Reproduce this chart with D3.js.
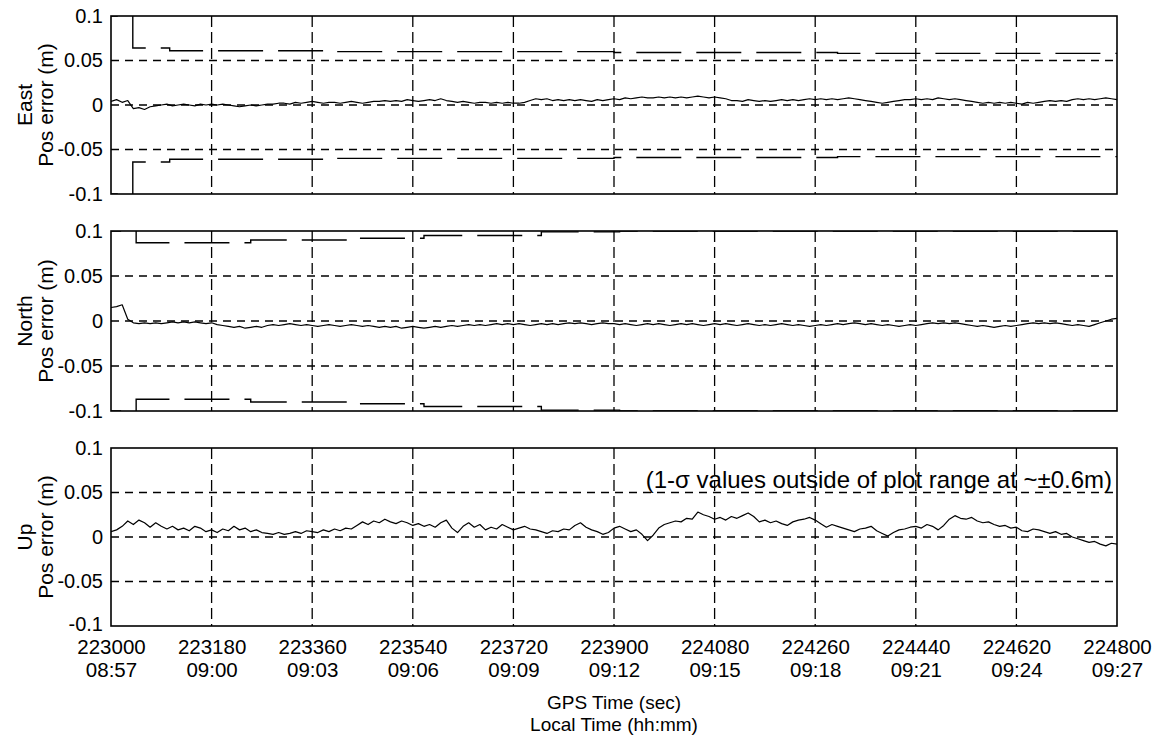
<!DOCTYPE html>
<html>
<head>
<meta charset="utf-8">
<script src="https://cdn.jsdelivr.net/npm/d3@7"></script>
<style>
  html, body { margin: 0; padding: 0; background: #fff; }
  svg { display: block; }
  text { font-family: "Liberation Sans", Arial, Helvetica, sans-serif; fill: #000; }
</style>
</head>
<body>
<svg id="chart" width="1164" height="740"></svg>
<script>
// ---------------- DATA ----------------
const gpsStart = 223000, gpsEnd = 224800, sampleStep = 10;
const xTickGps = [223000, 223180, 223360, 223540, 223720, 223900, 224080, 224260, 224440, 224620, 224800];
const xTickClock = ["08:57", "09:00", "09:03", "09:06", "09:09", "09:12", "09:15", "09:18", "09:21", "09:24", "09:27"];
const yTicks = [-0.1, -0.05, 0, 0.05, 0.1];
const yTickLabels = ["-0.1", "-0.05", "0", "0.05", "0.1"];
const panelNames = ["East", "North", "Up"];
const yAxisTitle = "Pos error (m)";
const xTitle1 = "GPS Time (sec)";
const xTitle2 = "Local Time (hh:mm)";
const upNote = "(1-\u03c3 values outside of plot range at ~\u00b10.6m)";

// position error, one sample every 10 s from 223000 to 224800
const eastError = [
  0.004, 0.006, 0.003, 0.005, -0.004, -0.003, -0.005, -0.002, -0.001, 0.000,
  0.001, -0.001, 0.000, 0.001, 0.000, -0.001, 0.001, 0.000, 0.001, 0.000,
  0.001, 0.000, -0.001, -0.002, -0.001, 0.000, -0.001, 0.000, 0.001, 0.001,
  0.002, 0.002, 0.001, 0.003, 0.002, 0.003, 0.004, 0.003, 0.002, 0.003,
  0.003, 0.002, 0.003, 0.004, 0.003, 0.002, 0.003, 0.004, 0.004, 0.005,
  0.004, 0.005, 0.004, 0.006, 0.005, 0.004, 0.005, 0.006, 0.005, 0.007,
  0.005, 0.004, 0.003, 0.004, 0.003, 0.002, 0.003, 0.003, 0.002, 0.003,
  0.002, 0.003, 0.002, 0.002, 0.003, 0.005, 0.007, 0.006, 0.007, 0.005,
  0.006, 0.005, 0.006, 0.005, 0.006, 0.005, 0.004, 0.006, 0.005, 0.006,
  0.007, 0.006, 0.008, 0.007, 0.008, 0.009, 0.008, 0.008, 0.009, 0.008,
  0.009, 0.008, 0.009, 0.008, 0.009, 0.010, 0.009, 0.008, 0.009, 0.008,
  0.007, 0.005, 0.005, 0.004, 0.006, 0.005, 0.004, 0.005, 0.004, 0.005,
  0.006, 0.005, 0.006, 0.005, 0.006, 0.007, 0.006, 0.007, 0.006, 0.007,
  0.006, 0.007, 0.008, 0.007, 0.006, 0.005, 0.004, 0.003, 0.002, 0.003,
  0.004, 0.005, 0.006, 0.006, 0.007, 0.006, 0.007, 0.006, 0.008, 0.007,
  0.006, 0.007, 0.006, 0.005, 0.004, 0.003, 0.002, 0.003, 0.002, 0.003,
  0.002, 0.003, 0.002, 0.001, 0.003, 0.002, 0.003, 0.004, 0.005, 0.004,
  0.005, 0.004, 0.006, 0.007, 0.006, 0.007, 0.006, 0.007, 0.008, 0.007, 0.006
];
const northError = [
  0.015, 0.016, 0.018, 0.002, -0.002, -0.003, -0.002, -0.003, -0.002, -0.003,
  -0.002, -0.001, -0.002, -0.001, -0.002, -0.001, -0.002, -0.003, -0.002, -0.004,
  -0.005, -0.006, -0.007, -0.006, -0.008, -0.007, -0.006, -0.007, -0.005, -0.004,
  -0.005, -0.004, -0.003, -0.004, -0.005, -0.004, -0.005, -0.006, -0.005, -0.004,
  -0.005, -0.006, -0.005, -0.004, -0.005, -0.006, -0.005, -0.006, -0.007, -0.006,
  -0.007, -0.006, -0.008, -0.007, -0.006, -0.007, -0.008, -0.007, -0.006, -0.007,
  -0.006, -0.005, -0.006, -0.005, -0.004, -0.005, -0.004, -0.005, -0.004, -0.003,
  -0.004, -0.003, -0.004, -0.003, -0.004, -0.005, -0.004, -0.003, -0.004, -0.003,
  -0.004, -0.003, -0.002, -0.003, -0.002, -0.003, -0.004, -0.003, -0.002, -0.003,
  -0.003, -0.004, -0.003, -0.004, -0.005, -0.004, -0.003, -0.004, -0.003, -0.004,
  -0.005, -0.004, -0.003, -0.004, -0.003, -0.004, -0.005, -0.004, -0.003, -0.004,
  -0.003, -0.004, -0.005, -0.004, -0.003, -0.004, -0.005, -0.004, -0.005, -0.004,
  -0.003, -0.004, -0.005, -0.004, -0.005, -0.006, -0.005, -0.004, -0.005, -0.004,
  -0.003, -0.004, -0.003, -0.002, -0.003, -0.004, -0.003, -0.004, -0.005, -0.004,
  -0.005, -0.006, -0.005, -0.004, -0.005, -0.004, -0.003, -0.002, -0.003, -0.002,
  -0.003, -0.002, -0.003, -0.004, -0.005, -0.006, -0.005, -0.006, -0.007, -0.006,
  -0.005, -0.006, -0.005, -0.004, -0.003, -0.002, -0.003, -0.002, -0.003, -0.002,
  -0.003, -0.004, -0.005, -0.004, -0.005, -0.006, -0.004, -0.002, 0.000, 0.002, 0.003
];
const upError = [
  0.006, 0.008, 0.012, 0.018, 0.014, 0.019, 0.016, 0.011, 0.016, 0.012,
  0.009, 0.012, 0.008, 0.010, 0.007, 0.012, 0.010, 0.006, 0.008, 0.005,
  0.009, 0.007, 0.012, 0.008, 0.010, 0.006, 0.008, 0.005, 0.004, 0.003,
  0.005, 0.003, 0.004, 0.006, 0.004, 0.007, 0.006, 0.005, 0.008, 0.006,
  0.009, 0.007, 0.010, 0.009, 0.013, 0.017, 0.014, 0.018, 0.016, 0.020,
  0.017, 0.015, 0.018, 0.016, 0.013, 0.015, 0.012, 0.014, 0.011, 0.016,
  0.019, 0.010, 0.005, 0.012, 0.016, 0.011, 0.014, 0.008, 0.011, 0.009,
  0.014, 0.011, 0.008, 0.010, 0.012, 0.009, 0.008, 0.006, 0.004, 0.007,
  0.006, 0.009, 0.008, 0.013, 0.016, 0.011, 0.008, 0.006, 0.003, 0.005,
  0.010, 0.012, 0.009, 0.006, 0.008, 0.003, -0.004, 0.002, 0.010, 0.014,
  0.016, 0.018, 0.017, 0.021, 0.020, 0.028, 0.025, 0.023, 0.020, 0.022,
  0.019, 0.023, 0.021, 0.024, 0.027, 0.023, 0.017, 0.019, 0.016, 0.018,
  0.015, 0.013, 0.017, 0.019, 0.020, 0.022, 0.019, 0.015, 0.011, 0.014,
  0.012, 0.010, 0.008, 0.006, 0.009, 0.010, 0.012, 0.007, 0.004, 0.001,
  0.005, 0.008, 0.009, 0.011, 0.012, 0.010, 0.014, 0.012, 0.008, 0.013,
  0.020, 0.024, 0.021, 0.020, 0.022, 0.018, 0.016, 0.017, 0.014, 0.012,
  0.013, 0.010, 0.011, 0.007, 0.006, 0.009, 0.008, 0.006, 0.004, 0.006,
  0.003, 0.004, 0.000, -0.002, -0.004, -0.006, -0.005, -0.008, -0.010, -0.007, -0.008
];

// 1-sigma envelopes: step changes (seconds after 223000, value in m)
const eastSigmaTime = [0, 39, 105, 400, 900, 1300, 1800];
const eastSigmaValue = [0.6, 0.064, 0.061, 0.060, 0.059, 0.058, 0.058];
const northSigmaTime = [0, 45, 250, 445, 560, 770, 910, 1800];
const northSigmaValue = [0.6, 0.087, 0.090, 0.092, 0.095, 0.099, 0.6, 0.6];

// ---------------- LAYOUT ----------------
const svg = d3.select("#chart");
const left = 111, right = 1117;
const panels = [
  { name: panelNames[0], top: 16, bottom: 194, data: eastError, sT: eastSigmaTime, sV: eastSigmaValue },
  { name: panelNames[1], top: 231, bottom: 411, data: northError, sT: northSigmaTime, sV: northSigmaValue },
  { name: panelNames[2], top: 448, bottom: 626, data: upError, sT: null, sV: null }
];

const x = d3.scaleLinear().domain([gpsStart, gpsEnd]).range([left, right]);

panels.forEach((p, pi) => {
  const y = d3.scaleLinear().domain([-0.1, 0.1]).range([p.bottom, p.top]);
  const g = svg.append("g");
  const clipId = "clip" + pi;
  svg.append("clipPath").attr("id", clipId).append("rect")
    .attr("x", left).attr("y", p.top).attr("width", right - left).attr("height", p.bottom - p.top);

  // annotation (under the grid)
  if (pi === 2) {
    g.append("text").attr("x", 1112).attr("y", y(0.1) + 40)
      .attr("text-anchor", "end").attr("font-size", 24).text(upNote);
  }

  // grid
  const grid = g.append("g");
  grid.selectAll("line.h").data(yTicks.filter(v => v > -0.1 && v < 0.1)).join("line")
    .attr("x1", left).attr("x2", right).attr("y1", d => y(d)).attr("y2", d => y(d))
    .attr("stroke", "#000").attr("stroke-width", 1.3).attr("stroke-dasharray", "8,6");
  grid.selectAll("line.v").data(xTickGps.slice(1, -1)).join("line")
    .attr("x1", d => x(d)).attr("x2", d => x(d)).attr("y1", p.top).attr("y2", p.bottom)
    .attr("stroke", "#000").attr("stroke-width", 1.3).attr("stroke-dasharray", "11,5");

  // y axis labels
  const yAxis = d3.axisLeft(y).tickValues(yTicks).tickSize(0).tickPadding(8)
    .tickFormat((d, i) => yTickLabels[i]);
  const ya = g.append("g").attr("transform", `translate(${left},0)`).call(yAxis);
  ya.select(".domain").remove();
  ya.selectAll("text").attr("font-size", 20).attr("font-family", null).attr("fill", "#000");
  if (pi === 2) {
    // keep the bottom "-0.1" clear of the time labels below it
    ya.selectAll(".tick").filter(d => d === -0.1).select("text").attr("dy", "0.22em");
  }

  // y axis titles (two lines)
  const yt = g.append("text").attr("transform", `translate(32,${(p.top + p.bottom) / 2}) rotate(-90)`)
    .attr("text-anchor", "middle").attr("font-size", 21);
  yt.append("tspan").attr("x", 0).attr("y", 0).text(p.name);
  yt.append("tspan").attr("x", 0).attr("y", 21).text(yAxisTitle);

  const plot = g.append("g").attr("clip-path", `url(#${clipId})`);

  // sigma envelopes
  if (p.sT) {
    const pts = p.sT.map((t, i) => ({ t: gpsStart + t, v: Math.min(p.sV[i], 0.1) }));
    const firstIn = p.sV.findIndex(v => v <= 0.1);
    const lead = x(gpsStart + p.sT[firstIn]) - x(gpsStart);
    const offset = (60 - (lead % 60)) % 60;
    [1, -1].forEach(sgn => {
      const line = d3.line().curve(d3.curveStepAfter).x(d => x(d.t)).y(d => y(sgn * d.v));
      plot.append("path").attr("d", line(pts)).attr("fill", "none")
        .attr("stroke", "#000").attr("stroke-width", 1.4)
        .attr("stroke-dasharray", "45,15").attr("stroke-dashoffset", offset);
    });
  }

  // data line
  const dl = d3.line().x((d, i) => x(gpsStart + i * sampleStep)).y(d => y(d));
  plot.append("path").attr("d", dl(p.data)).attr("fill", "none")
    .attr("stroke", "#000").attr("stroke-width", 1.2).attr("stroke-linejoin", "round");

  // frame
  g.append("rect").attr("x", left).attr("y", p.top).attr("width", right - left).attr("height", p.bottom - p.top)
    .attr("fill", "none").attr("stroke", "#000").attr("stroke-width", 1.6);

  // x tick labels on bottom panel (two lines per tick)
  if (pi === 2) {
    const xa = g.append("g").attr("transform", `translate(0,${p.bottom})`)
      .call(d3.axisBottom(x).tickValues(xTickGps).tickSize(0).tickPadding(0).tickFormat(() => ""));
    xa.select(".domain").remove();
    xa.selectAll(".tick").each(function (d, i) {
      const t = d3.select(this);
      t.select("text").remove();
      const tx = t.append("text").attr("text-anchor", "middle").attr("font-size", 20.5);
      tx.append("tspan").attr("x", 0).attr("y", 28).text(xTickGps[i]);
      tx.append("tspan").attr("x", 0).attr("y", 51).text(xTickClock[i]);
    });
  }
});

// x axis titles
const xt = svg.append("text").attr("text-anchor", "middle").attr("font-size", 19);
xt.append("tspan").attr("x", 614).attr("y", 709).text(xTitle1);
xt.append("tspan").attr("x", 614).attr("y", 731).text(xTitle2);
</script>
</body>
</html>
